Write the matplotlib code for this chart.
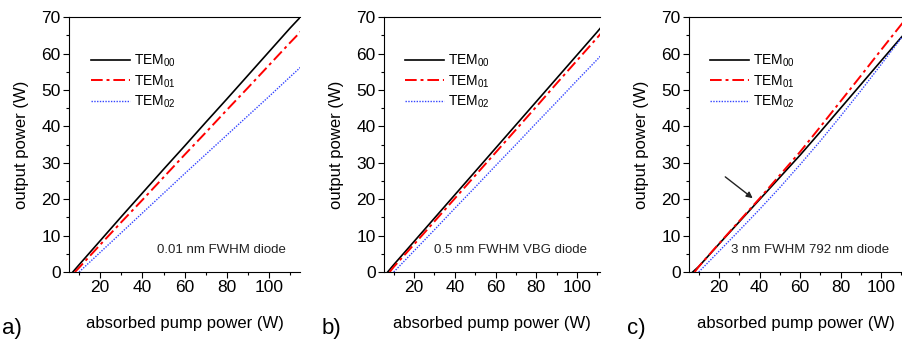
import matplotlib.pyplot as plt
from matplotlib.ticker import MultipleLocator

# absorbed pump power (W) sample points
pump = [7, 10, 20, 30, 40, 50, 60, 70, 80, 90, 100, 110, 116]

# a) 0.01 nm FWHM diode
a_tem00 = [0.0, 2.0, 8.6, 15.2, 21.7, 28.2, 34.6, 41.1, 47.5, 54.0, 60.5, 67.0, 70.7]
a_tem01 = [None, 1.2, 7.5, 13.7, 19.8, 26.0, 32.2, 38.3, 44.5, 50.6, 56.8, 63.0, 66.6]
a_tem02 = [None, 0.0, 5.4, 10.8, 16.2, 21.6, 27.0, 32.3, 37.6, 42.9, 48.2, 53.6, 56.8]

# b) 0.5 nm FWHM VBG diode
b_tem00 = [0.0, 2.0, 8.4, 14.8, 21.2, 27.6, 34.0, 40.4, 46.8, 53.2, 59.6, 66.0, 70.0]
b_tem01 = [None, 1.4, 7.6, 13.9, 20.2, 26.5, 32.8, 39.1, 45.4, 51.8, 58.1, 64.4, 68.2]
b_tem02 = [None, 0.0, 5.8, 11.6, 17.5, 23.3, 29.2, 35.0, 40.9, 46.7, 52.6, 58.4, 62.0]

# c) 3 nm FWHM 792 nm diode
c_tem00 = [None, 1.5, 7.7, 13.8, 19.9, 26.0, 32.1, 38.5, 45.0, 51.5, 58.0, 64.5, 68.0]
c_tem01 = [None, 1.5, 7.8, 14.0, 20.2, 26.6, 33.0, 39.9, 46.9, 53.9, 61.0, 68.0, 72.0]
c_tem02 = [None, 0.0, 5.7, 11.4, 17.2, 23.2, 29.5, 36.0, 42.8, 49.8, 57.0, 64.3, 68.5]

panels = [
    ("a)", "0.01 nm FWHM diode", a_tem00, a_tem01, a_tem02, 114.7),
    ("b)", "0.5 nm FWHM VBG diode", b_tem00, b_tem01, b_tem02, 111.3),
    ("c)", "3 nm FWHM 792 nm diode", c_tem00, c_tem01, c_tem02, 110.3),
]
starts = {"00": 7, "01": 8, "02": 10}

lefts = [0.0765, 0.4257, 0.7639]
rights = [0.3326, 0.6652, 1.0]

plt.rcParams['font.family'] = 'Liberation Sans'
plt.rcParams['mathtext.fontset'] = 'custom'
plt.rcParams['mathtext.rm'] = 'Liberation Sans'
plt.rcParams['mathtext.it'] = 'Liberation Sans'

fig = plt.figure(figsize=(9.02, 3.43), dpi=100)

for i, (tag, note, t00, t01, t02, xmax) in enumerate(panels):
    ax = fig.add_axes([lefts[i], 0.207, rights[i] - lefts[i], 0.743])

    def clean(vals, x0):
        xs = [x0] + [p for p, v in zip(pump[1:], vals[1:]) if v is not None]
        ys = [0.0] + [v for v in vals[1:] if v is not None]
        return xs, ys

    x0, y0 = clean(t00, starts["00"])
    x1, y1 = clean(t01, starts["01"])
    x2, y2 = clean(t02, starts["02"])
    ax.plot(x0, y0, color='black', lw=1.2, label='TEM$_{00}$')
    ax.plot(x1, y1, color='red', lw=1.4, ls=(0, (6, 2, 1.5, 2)), label='TEM$_{01}$')
    ax.plot(x2, y2, color='#3344ff', lw=1.0, ls=(0, (1, 1)), label='TEM$_{02}$')

    ax.set_xlim(5.2, xmax)
    ax.set_ylim(0, 70)
    ax.xaxis.set_major_locator(MultipleLocator(20))
    ax.xaxis.set_minor_locator(MultipleLocator(10))
    ax.yaxis.set_major_locator(MultipleLocator(10))
    ax.yaxis.set_minor_locator(MultipleLocator(5))
    ax.tick_params(which='major', direction='out', length=4, labelsize=12.5, width=0.8, pad=2)
    ax.tick_params(which='minor', direction='out', length=2.5, width=0.8)
    ax.spines['right'].set_visible(False)
    for s in ('left', 'top', 'bottom'):
        ax.spines[s].set_linewidth(0.8)

    ax.set_ylabel('output power (W)', fontsize=12, labelpad=9)
    ax.set_xlabel('absorbed pump power (W)', fontsize=12, labelpad=15)
    ax.text(-0.29, -0.245, tag, transform=ax.transAxes, fontsize=16)

    ax.text(0.94, 0.085, note, transform=ax.transAxes, fontsize=9.5,
            ha='right', va='center', color='#222222')

    ax.legend(loc='upper left', bbox_to_anchor=(0.04, 0.91), frameon=False,
              fontsize=10, handlelength=2.8, handletextpad=0.3, labelspacing=0.3)

    if tag == "c)":
        ax.annotate('', xy=(37.7, 19.8), xytext=(22.0, 26.6),
                    arrowprops=dict(arrowstyle='-|>', color='#222222', lw=1.0,
                                    mutation_scale=9))

fig.savefig('out.png', dpi=100)
